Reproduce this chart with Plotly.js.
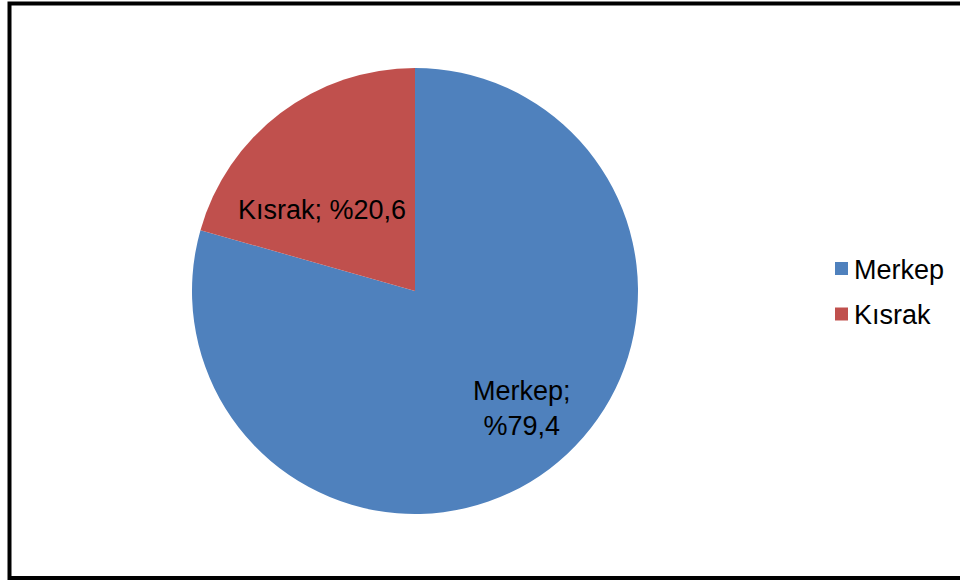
<!DOCTYPE html>
<html>
<head>
<meta charset="utf-8">
<script src="https://cdn.plot.ly/plotly-3.0.1.min.js"></script>
<style>
html,body{margin:0;padding:0;background:#fff;}
#chart{width:960px;height:580px;}
</style>
</head>
<body>
<div id="chart"></div>
<script>
const labels = ["Merkep", "Kısrak"];
const values = [79.4, 20.6];
const valueText = ["%79,4", "%20,6"];
const colors = ["#4F81BD", "#C0504D"];
const W = 960, H = 580;
const px = x => x / W;
const py = y => 1 - y / H;
const FONT = "Liberation Sans, Arial, sans-serif";

const trace = {
  type: "pie",
  labels: labels,
  values: values,
  textinfo: "none",
  hoverinfo: "label+percent",
  sort: false,
  direction: "clockwise",
  rotation: 0,
  marker: {colors: colors, line: {width: 0}},
  domain: {x: [px(192), px(638)], y: [py(514), py(68)]},
  showlegend: false
};

const shapes = [{
  type: "rect", xref: "paper", yref: "paper",
  x0: px(9.5), x1: px(970), y0: py(578), y1: py(3.5),
  line: {color: "#000", width: 4}, fillcolor: "rgba(0,0,0,0)"
}];
const annotations = [];
// slice data labels
const labelPos = [[522, 408], [322, 210]];
labels.forEach((l, i) => {
  annotations.push({
    xref: "paper", yref: "paper", x: px(labelPos[i][0]), y: py(labelPos[i][1]),
    xanchor: "center", yanchor: "middle", showarrow: false, align: "center",
    text: i === 0 ? l + ";<br>" + valueText[i] : l + "; " + valueText[i],
    font: {family: FONT, size: 27, color: "#000"}
  });
});
// legend
const legendY = [268.5, 314];
labels.forEach((l, i) => {
  shapes.push({
    type: "rect", xref: "paper", yref: "paper",
    x0: px(835), x1: px(848), y0: py(legendY[i] + 6.5), y1: py(legendY[i] - 6.5),
    fillcolor: colors[i], line: {width: 0}
  });
  annotations.push({
    xref: "paper", yref: "paper", x: px(852), y: py(legendY[i] + 1),
    xanchor: "left", yanchor: "middle", showarrow: false, text: l,
    font: {family: FONT, size: 27, color: "#000"}
  });
});

const layout = {
  width: W, height: H,
  margin: {l: 0, r: 0, t: 0, b: 0},
  paper_bgcolor: "#fff",
  shapes: shapes,
  annotations: annotations,
  showlegend: false
};
Plotly.newPlot("chart", [trace], layout, {displayModeBar: false, staticPlot: true});
</script>
</body>
</html>
